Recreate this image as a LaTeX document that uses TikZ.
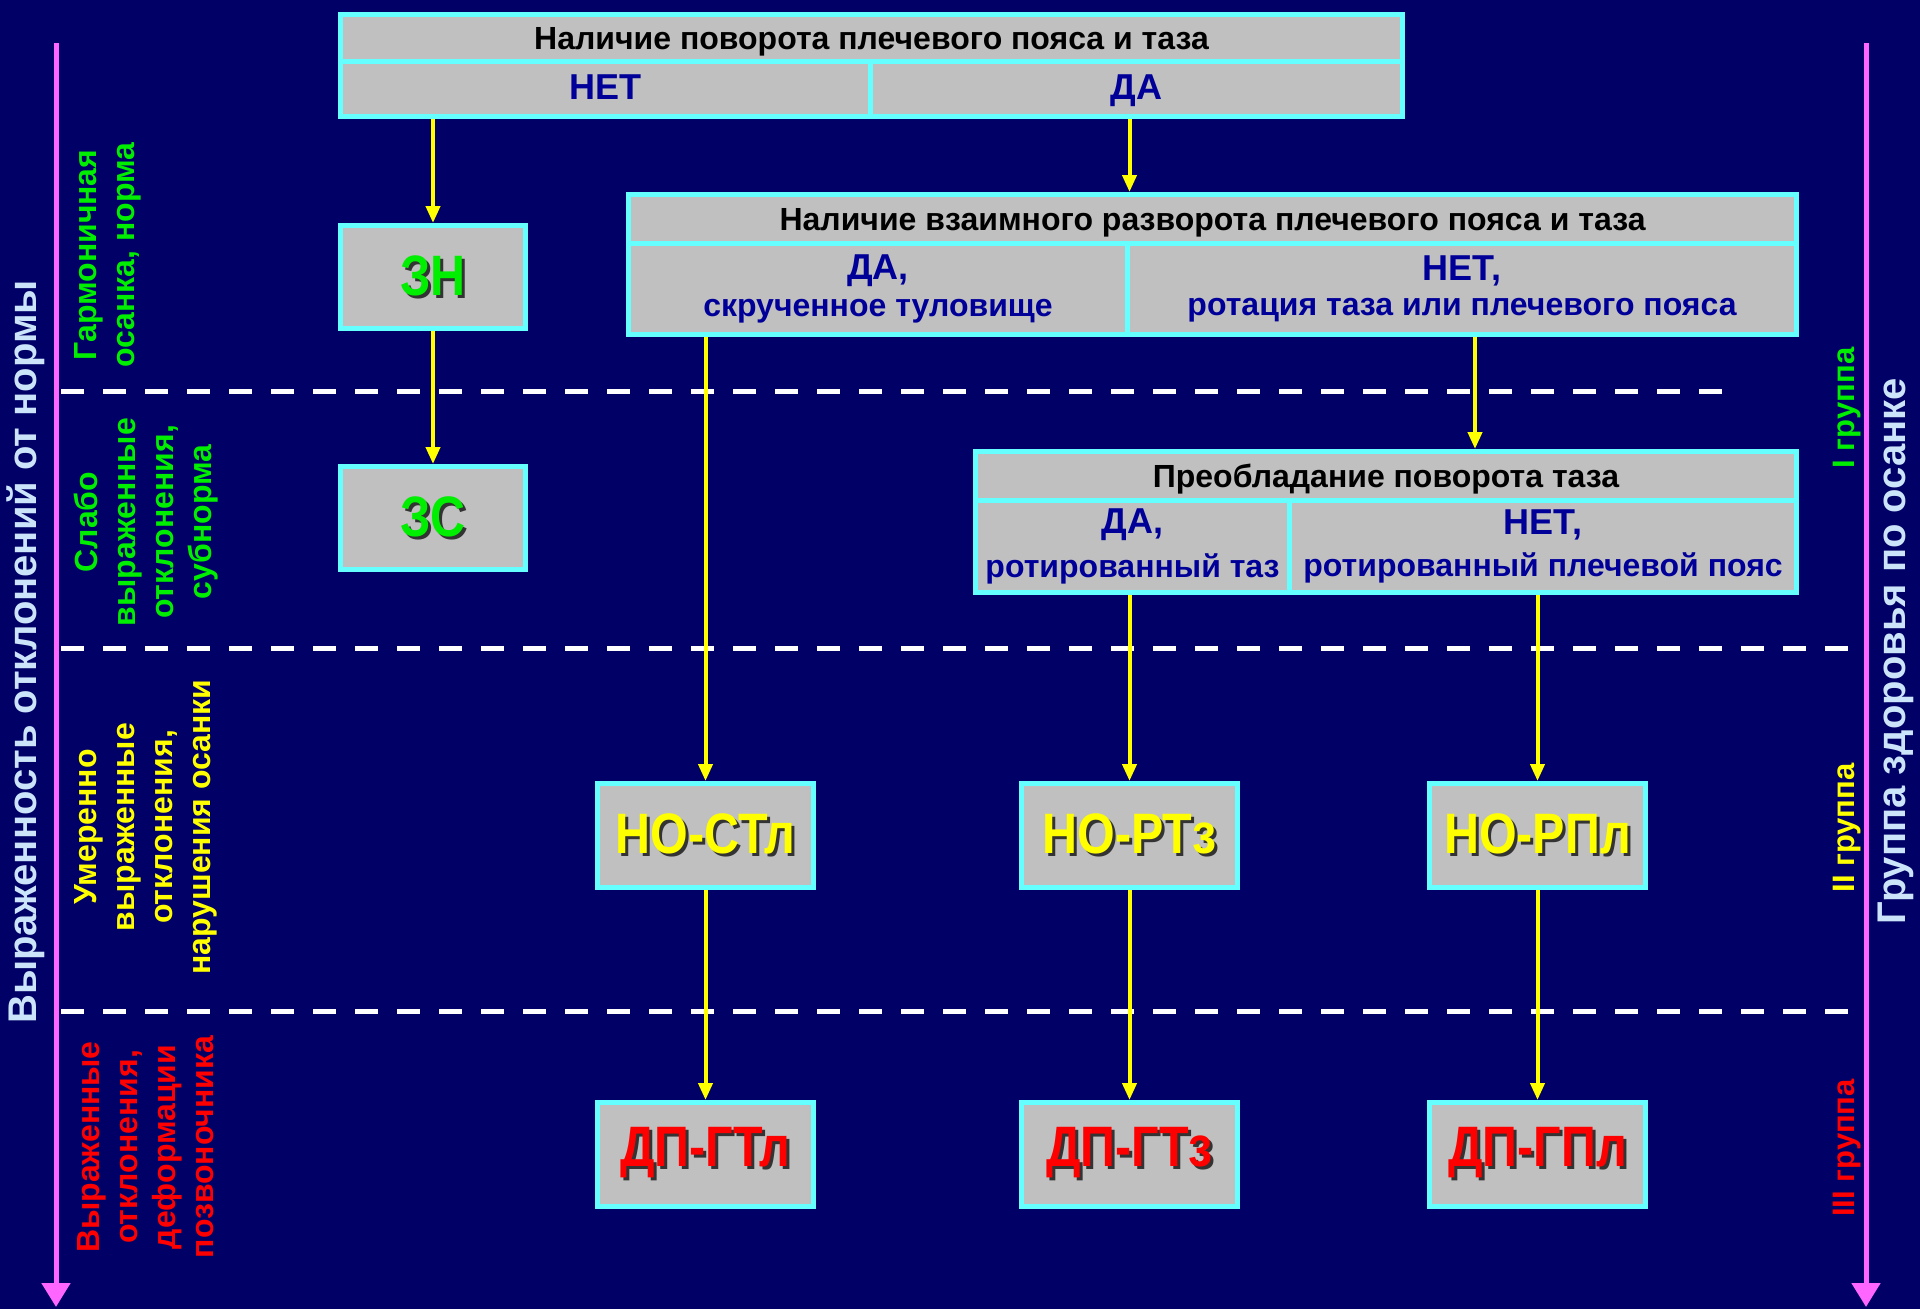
\documentclass[tikz,border=0pt]{standalone}
\usepackage{fontspec}
\setmainfont{Liberation Sans}
\newfontfamily\narrowf[FakeStretch=0.85]{Liberation Sans}
\usetikzlibrary{arrows.meta}
\definecolor{bg}{HTML}{000066}
\definecolor{cyanb}{HTML}{66FFFF}
\definecolor{grayf}{HTML}{C0C0C0}
\definecolor{dblue}{HTML}{000099}
\definecolor{pinkax}{HTML}{FF66FF}
\definecolor{lblue}{HTML}{CCE4FA}
\definecolor{gtxt}{HTML}{00EE00}
\definecolor{ytxt}{HTML}{FFFF00}
\definecolor{rtxt}{HTML}{FF0000}
\newcommand\fs[2]{\fontsize{#1}{#2}\selectfont}
\newcommand\shd[2]{{\narrowf\bfseries\fs{57}{60}\makebox[0pt][l]{\kern3pt\raisebox{-3pt}{\color{black!80}#2}}\textcolor{#1}{#2}}}
\newcommand\twoline[2]{{\fs{36}{40}#1}\\[12pt]{\fs{32}{38}#2}}
\tikzset{
  cell/.style={draw=cyanb, line width=5pt, fill=grayf, inner sep=0pt, anchor=north west},
  hdr/.style={cell, font=\bfseries\fs{32}{36}, text=black, text height=23pt, text depth=1pt},
  ans/.style={cell, align=center, text=dblue, font=\bfseries},
  one/.style={ans, font=\bfseries\fs{36}{40}, text height=26pt, text depth=6pt},
  code/.style={cell, minimum width=216pt, minimum height=104pt},
  arr/.style={draw=ytxt, line width=4pt, -{Triangle[length=17pt,width=14pt]}},
  ax/.style={draw=pinkax, line width=5pt, -{Triangle[length=24pt,width=28pt]}},
  dl/.style={draw=white, line width=5pt, dash pattern=on 23pt off 19pt},
  side/.style={rotate=90, align=center, font=\bfseries\fs{32}{38}},
  grp/.style={rotate=90, font=\bfseries\fs{31}{36}},
  axlab/.style={rotate=90, text=lblue, font=\bfseries\fs{40}{46}}
}
\begin{document}
\begin{tikzpicture}[x=1pt,y=-1pt]
\fill[bg] (0,0) rectangle (1920,1309);
\useasboundingbox (0,0) rectangle (1920,1309);
% dashed level lines
\draw[dl] (61,391) -- (1727,391);
\draw[dl] (61,648) -- (1855,648);
\draw[dl] (61,1011) -- (1855,1011);
% axes
\draw[ax] (56,43) -- (56,1307);
\draw[ax] (1866,43) -- (1866,1307);
\node[axlab] (axL) at (26,652) {Выраженность отклонений от нормы};
\node[axlab] (axR) at (1896,651) {Группа здоровья по осанке};
% side labels
\node[side, text=gtxt] (l1) at (108,255) {Гармоничная\\осанка, норма};
\node[side, text=gtxt] (l2) at (146,522) {Слабо\\выраженные\\отклонения,\\субнорма};
\node[side, text=ytxt] (l3) at (146,827) {Умеренно\\выраженные\\отклонения,\\нарушения осанки};
\node[side, text=rtxt] (l4) at (146,1147) {Выраженные\\отклонения,\\деформации\\позвоночника};
\node[grp, text=gtxt] (g1) at (1847,408) {I группа};
\node[grp, text=ytxt] (g2) at (1847,828) {II группа};
\node[grp, text=rtxt] (g3) at (1847,1148) {III группа};
% top table
\node[hdr, minimum width=1062pt, minimum height=47pt] (hdrA) at (338,12) {Наличие поворота плечевого пояса и таза};
\node[one, minimum width=530pt, minimum height=55pt] (netA) at (338,59) {НЕТ};
\node[one, minimum width=532pt, minimum height=55pt] (daA) at (868,59) {ДА};
% second table
\node[hdr, minimum width=1168pt, minimum height=49pt] (hdrB) at (626,192) {Наличие взаимного разворота плечевого пояса и таза};
\node[ans, minimum width=499pt, minimum height=91pt] (daB) at (626,241) {\twoline{ДА,}{скрученное туловище}};
\node[ans, minimum width=669pt, minimum height=91pt] (netB) at (1125,241) {\twoline{НЕТ,}{ротация таза или плечевого пояса}};
% third table
\node[hdr, minimum width=821pt, minimum height=49pt] (hdrC) at (973,449) {Преобладание поворота таза};
\node[ans, minimum width=314pt, minimum height=92pt] (daC) at (973,498) {\twoline{ДА,}{ротированный таз}};
\node[ans, minimum width=507pt, minimum height=92pt] (netC) at (1287,498) {\twoline{НЕТ,}{ротированный плечевой пояс}};
% code boxes
\node[code, minimum width=185pt, minimum height=103pt] (zn) at (338,223) {\shd{gtxt}{ЗН}};
\node[code, minimum width=185pt, minimum height=103pt] (zs) at (338,464) {\shd{gtxt}{ЗС}};
\node[code] (nost) at (595,781) {\shd{ytxt}{НО-СТл}};
\node[code] (nort) at (1019,781) {\shd{ytxt}{НО-РТз}};
\node[code] (norp) at (1427,781) {\shd{ytxt}{НО-РПл}};
\node[code] (dpst) at (595,1100) {\shd{rtxt}{ДП-ГТл}};
\node[code] (dprt) at (1019,1100) {\shd{rtxt}{ДП-ГТз}};
\node[code] (dprp) at (1427,1100) {\shd{rtxt}{ДП-ГПл}};
% connectors
\draw[arr] (netA.south -| zn.north) -- (zn.north);
\draw[arr] (zn.south) -- (zs.north);
\draw[arr] (daA.south -| nort.north) -- (hdrB.north -| nort.north);
\draw[arr] (daB.south -| nost.north) -- (nost.north);
\coordinate (bnet) at ([xshift=13pt]netB.south);
\draw[arr] (bnet) -- (hdrC.north -| bnet);
\draw[arr] (daC.south -| nort.north) -- (nort.north);
\draw[arr] (netC.south -| norp.north) -- (norp.north);
\draw[arr] (nost.south) -- (dpst.north);
\draw[arr] (nort.south) -- (dprt.north);
\draw[arr] (norp.south) -- (dprp.north);
\end{tikzpicture}
\end{document}
